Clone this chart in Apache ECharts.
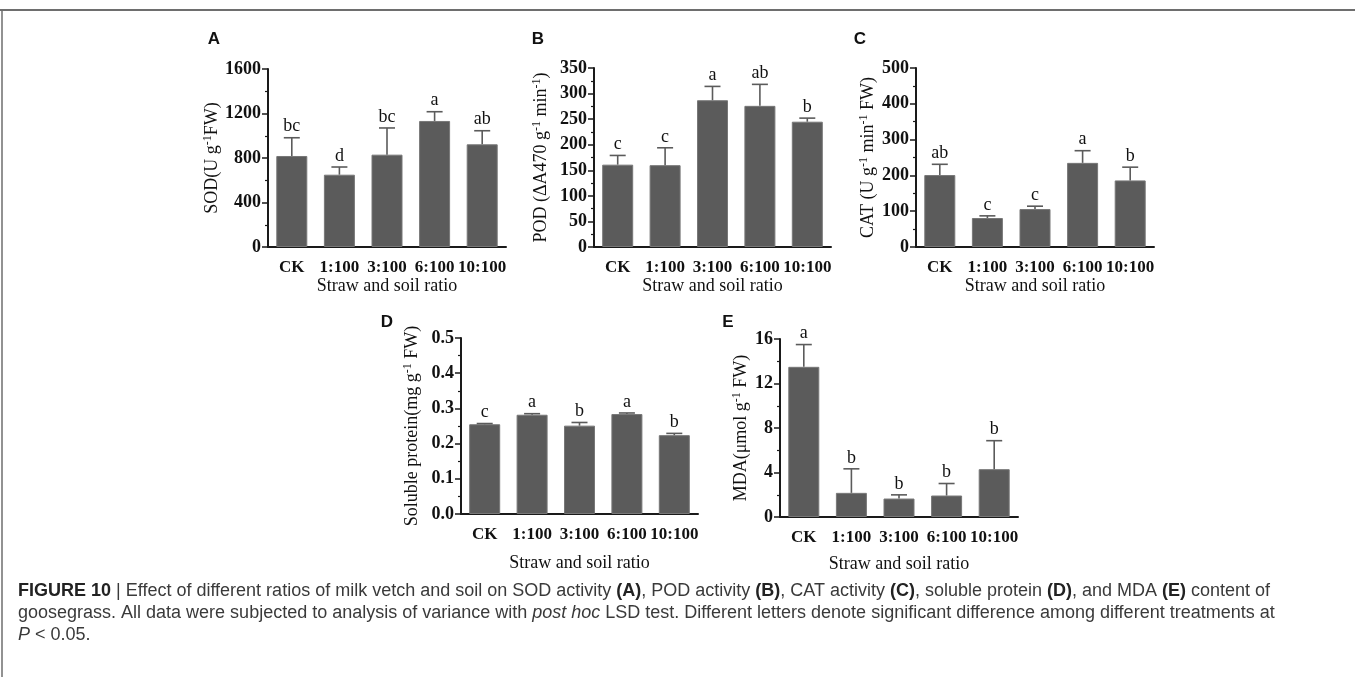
<!DOCTYPE html>
<html>
<head>
<meta charset="utf-8">
<script src="https://cdn.jsdelivr.net/npm/echarts@6/dist/echarts.min.js"></script>
<style>
  html, body { margin: 0; padding: 0; background: #fff; }
  #chart { width: 1355px; height: 677px; }
</style>
</head>
<body>
<div id="chart"></div>
<script>
// 处理比例
const categories = ['CK', '1:100', '3:100', '6:100', '10:100'];

// A SOD
const sodMean = [818, 650, 830, 1133, 923];
const sodErr = [164, 69, 240, 83, 122];
const sodLetters = ['bc', 'd', 'bc', 'a', 'ab'];
// B POD
const podMean = [161, 160, 287, 276, 245];
const podErr = [18, 34, 27, 42, 7];
const podLetters = ['c', 'c', 'a', 'ab', 'b'];
// C CAT
const catMean = [201, 81, 106, 235, 186];
const catErr = [30, 6, 8, 34, 37];
const catLetters = ['ab', 'c', 'c', 'a', 'b'];
// D soluble protein
const proteinMean = [0.255, 0.282, 0.251, 0.284, 0.224];
const proteinErr = [0.002, 0.003, 0.009, 0.003, 0.005];
const proteinLetters = ['c', 'a', 'b', 'a', 'b'];
// E MDA
const mdaMean = [13.5, 2.17, 1.66, 1.93, 4.3];
const mdaErr = [2.0, 2.16, 0.33, 1.08, 2.56];
const mdaLetters = ['a', 'b', 'b', 'b', 'b'];

const serif = '"Liberation Serif", "Times New Roman", serif';
const sans = '"Liberation Sans", Arial, sans-serif';
const axisColor = '#1a1a1a';
const barColor = '#5b5b5b';

const panels = [
  { mean: sodMean, err: sodErr, letters: sodLetters, max: 1600, interval: 400,
    grid: { left: 268, top: 69, width: 238, height: 178 },
    name: '{n|SOD(U g}{s|-1}{n|FW)}', nameGap: 38, xNameGap: 26, digits: 0 },
  { mean: podMean, err: podErr, letters: podLetters, max: 350, interval: 50,
    grid: { left: 594, top: 68, width: 237, height: 179 },
    name: '{n|POD (ΔA470 g}{s|-1}{n| min}{s|-1}{n|)}', nameGap: 43, xNameGap: 22, digits: 0 },
  { mean: catMean, err: catErr, letters: catLetters, max: 500, interval: 100,
    grid: { left: 916, top: 68, width: 238, height: 179 },
    name: '{n|CAT (U g}{s|-1}{n| min}{s|-1}{n| FW)}', nameGap: 38, xNameGap: 26, digits: 0 },
  { mean: proteinMean, err: proteinErr, letters: proteinLetters, max: 0.5, interval: 0.1,
    grid: { left: 461, top: 338, width: 237, height: 176 },
    name: '{n|Soluble protein(mg g}{s|-1}{n| FW)}', nameGap: 39, xNameGap: 40, digits: 1 },
  { mean: mdaMean, err: mdaErr, letters: mdaLetters, max: 16, interval: 4,
    grid: { left: 780, top: 339, width: 238, height: 178 },
    name: '{n|MDA(μmol g}{s|-1}{n| FW)}', nameGap: 29, xNameGap: 38, digits: 0 }
];

// 误差线 + 显著性字母
function errorBar(letters) {
  return function (params, api) {
    const i = api.value(0);
    const mean = api.value(1);
    const err = api.value(2);
    const base = api.coord([i, mean]);
    const top = api.coord([i, mean + err]);
    const half = 8;
    const lineStyle = { stroke: '#5b5b5b', lineWidth: 1.6 };
    return {
      type: 'group',
      children: [
        { type: 'line', shape: { x1: base[0], y1: base[1], x2: top[0], y2: top[1] }, style: lineStyle },
        { type: 'line', shape: { x1: top[0] - half, y1: top[1], x2: top[0] + half, y2: top[1] }, style: lineStyle },
        { type: 'text', x: top[0], y: top[1] - 2,
          style: { text: letters[params.dataIndex], align: 'center', verticalAlign: 'bottom',
                   font: '18px ' + serif, fill: '#111' } }
      ]
    };
  };
}

const grids = [], xAxes = [], yAxes = [], series = [];
panels.forEach(function (p, k) {
  grids.push(p.grid);
  xAxes.push({
    type: 'category', gridIndex: k, data: categories,
    name: 'Straw and soil ratio', nameLocation: 'middle', nameGap: p.xNameGap,
    nameTextStyle: { fontFamily: serif, fontSize: 18, color: '#111' },
    axisLine: { lineStyle: { color: axisColor, width: 2 } },
    axisTick: { alignWithLabel: true, length: 6, lineStyle: { color: axisColor, width: 1.5 } },
    axisLabel: { fontFamily: serif, fontWeight: 'bold', fontSize: 17, color: '#111', margin: 12, interval: 0 }
  });
  yAxes.push({
    type: 'value', gridIndex: k, min: 0, max: p.max, interval: p.interval,
    name: p.name, nameLocation: 'middle', nameGap: p.nameGap,
    nameTextStyle: {
      rich: {
        n: { fontFamily: serif, fontSize: 18, color: '#111', lineHeight: 20 },
        s: { fontFamily: serif, fontSize: 12, color: '#111', verticalAlign: 'top', lineHeight: 20 }
      }
    },
    axisLine: { show: true, lineStyle: { color: axisColor, width: 2 } },
    axisTick: { show: true, length: 6, lineStyle: { color: axisColor, width: 1.5 } },
    minorTick: { show: true, splitNumber: 2, length: 3, lineStyle: { color: axisColor, width: 1.2 } },
    splitLine: { show: false },
    axisLabel: {
      fontFamily: serif, fontWeight: 'bold', fontSize: 18, color: '#111', margin: 7,
      formatter: function (v) { return v.toFixed(p.digits); }
    }
  });
  series.push({
    type: 'bar', xAxisIndex: k, yAxisIndex: k, data: p.mean, barWidth: 31,
    itemStyle: { color: barColor, borderColor: '#777', borderWidth: 1 },
    silent: true
  });
  series.push({
    type: 'custom', xAxisIndex: k, yAxisIndex: k, z: 3,
    renderItem: errorBar(p.letters),
    encode: { x: 0, y: 1 },
    data: p.mean.map(function (m, i) { return [i, m, p.err[i]]; }),
    silent: true
  });
});

const panelLabels = [['A', 214, 39], ['B', 538, 39], ['C', 860, 39], ['D', 387, 322], ['E', 728, 322]];

const caption =
  '{b|FIGURE 10} | Effect of different ratios of milk vetch and soil on SOD activity {b|(A)}, POD activity {b|(B)}, CAT activity {b|(C)}, soluble protein {b|(D)}, and MDA {b|(E)} content of\n' +
  'goosegrass. All data were subjected to analysis of variance with {i|post hoc} LSD test. Different letters denote significant difference among different treatments at\n' +
  '{i|P} < 0.05.';

const option = {
  animation: false,
  backgroundColor: '#fff',
  title: [{
    left: 18, top: 580, padding: 0, text: caption,
    textStyle: {
      fontFamily: sans, fontSize: 18, fontWeight: 'normal', color: '#3a3a3a', lineHeight: 22,
      rich: {
        b: { fontFamily: sans, fontSize: 18, fontWeight: 'bold', color: '#222', lineHeight: 22 },
        i: { fontFamily: sans, fontSize: 18, fontStyle: 'italic', color: '#3a3a3a', lineHeight: 22 }
      }
    }
  }],
  graphic: [
    { type: 'line', shape: { x1: 0, y1: 10, x2: 1355, y2: 10 }, style: { stroke: '#6e6e6e', lineWidth: 2 } },
    { type: 'line', shape: { x1: 2, y1: 10, x2: 2, y2: 677 }, style: { stroke: '#6e6e6e', lineWidth: 1.5 } }
  ].concat(panelLabels.map(function (l) {
    return { type: 'text', x: l[1], y: l[2],
      style: { text: l[0], align: 'center', verticalAlign: 'middle', font: 'bold 17px ' + sans, fill: '#111' } };
  })),
  grid: grids,
  xAxis: xAxes,
  yAxis: yAxes,
  series: series
};

const chart = echarts.init(document.getElementById('chart'));
chart.setOption(option);
window.addEventListener('resize', function () { chart.resize(); });
</script>
</body>
</html>
